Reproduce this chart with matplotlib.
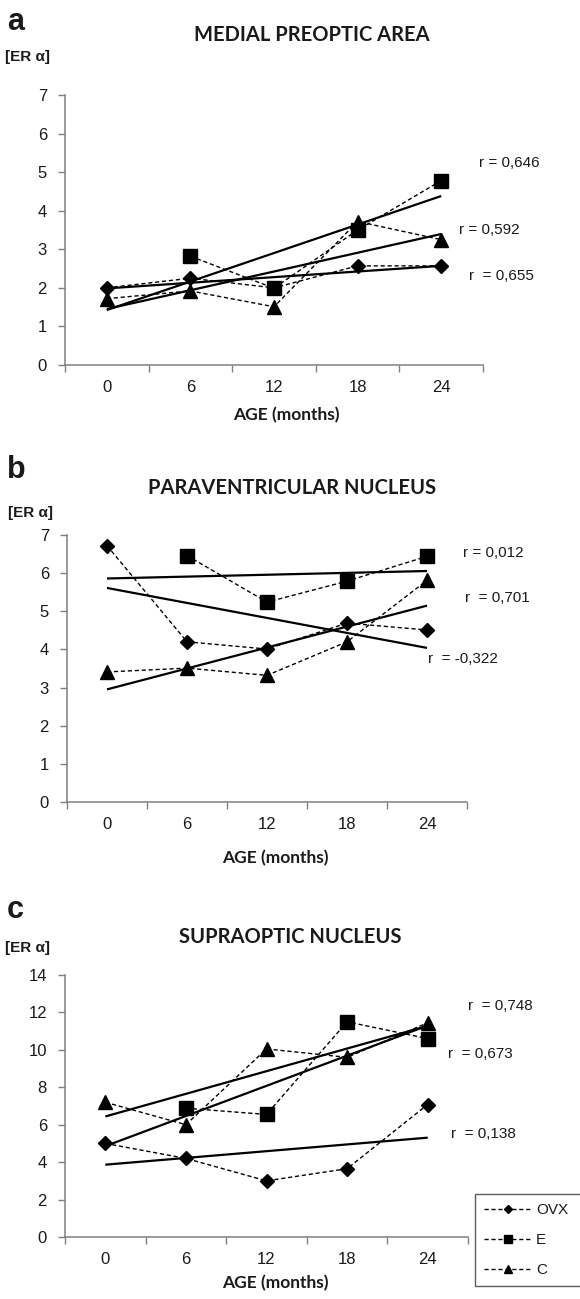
import numpy as np
import matplotlib
matplotlib.use('Agg')
import matplotlib.pyplot as plt

# ---------------- data ----------------
months = ['0', '6', '12', '18', '24']
month_vals = [0, 6, 12, 18, 24]
series_names = ['OVX', 'E', 'C']

# a: medial preoptic area
a_ovx = [2.00, 2.25, 2.00, 2.57, 2.57]
a_e = [np.nan, 2.82, 1.99, 3.50, 4.78]
a_c = [1.72, 1.92, 1.51, 3.72, 3.25]
a_r = ['r = 0,646', 'r = 0,592', 'r  = 0,655']

# b: paraventricular nucleus
b_ovx = [6.72, 4.20, 4.01, 4.69, 4.51]
b_e = [np.nan, 6.46, 5.24, 5.79, 6.44]
b_c = [3.41, 3.51, 3.32, 4.20, 5.81]
b_r = ['r = 0,012', 'r  = 0,701', 'r  = -0,322']

# c: supraoptic nucleus
c_ovx = [5.00, 4.20, 3.00, 3.65, 7.08]
c_e = [np.nan, 6.88, 6.55, 11.50, 10.60]
c_c = [7.20, 6.00, 10.05, 9.60, 11.45]
c_r = ['r  = 0,748', 'r  = 0,673', 'r  = 0,138']

titles = ['MEDIAL PREOPTIC AREA', 'PARAVENTRICULAR NUCLEUS', 'SUPRAOPTIC NUCLEUS']
panel_letters = ['a', 'b', 'c']
y_label = '[ER \u03b1]'
x_label = 'AGE (months)'

# ---------------- layout ----------------
W, H = 580, 1299
fig = plt.figure(figsize=(W / 100, H / 100), dpi=100)


def fx(x):
    return x / W


def fy(y):
    return 1 - y / H


def rect(l, t, r, b):
    return [l / W, 1 - b / H, (r - l) / W, (b - t) / H]


TXT = '#1a1a1a'
SPINE = '#808080'
ARIAL = 'Liberation Sans'
CALIBRI = 'Lato'

panels = [
    dict(data=(a_ovx, a_e, a_c), r=a_r, rect=(65, 95, 483, 365), ymax=7, ystep=1,
         rpos=[(4.45, 5.23), (4.21, 3.50), (4.33, 2.30)],
         letter_xy=(7, 22), title_xy=(312, 35), ylab_xy=(5, 57), age_xy=(286, 415)),
    dict(data=(b_ovx, b_e, b_c), r=b_r, rect=(67, 535, 467, 802), ymax=7, ystep=1,
         rpos=[(4.45, 6.52), (4.48, 5.36), (4.01, 3.75)],
         letter_xy=(7, 470), title_xy=(292, 488), ylab_xy=(8, 513), age_xy=(275, 858)),
    dict(data=(c_ovx, c_e, c_c), r=c_r, rect=(65, 975, 468, 1237), ymax=14, ystep=2,
         rpos=[(4.50, 12.36), (4.25, 9.77), (4.29, 5.48)],
         letter_xy=(7, 910), title_xy=(290, 937), ylab_xy=(5, 948), age_xy=(275, 1283)),
]

markers = ['D', 's', '^']
msizes = [7.0, 10.0, 10.0]
xi = np.arange(len(months))
mv = np.array(month_vals, dtype=float)

legend_handles = None
for p_i, p in enumerate(panels):
    ax = fig.add_axes(rect(*p['rect']))
    handles = []
    for s_i, vals in enumerate(p['data']):
        v = np.array(vals, dtype=float)
        ln, = ax.plot(xi, v, color='black', lw=1.0, ls=(0, (3, 2)),
                      marker=markers[s_i], ms=msizes[s_i], mfc='black', mec='black',
                      label=series_names[s_i], zorder=3, clip_on=False)
        handles.append(ln)
        ok = ~np.isnan(v)
        k, b0 = np.polyfit(mv[ok], v[ok], 1)
        ax.plot([xi[0], xi[-1]], [b0 + k * mv[0], b0 + k * mv[-1]],
                color='black', lw=1.6, solid_capstyle='butt', zorder=4)
    legend_handles = handles
    # r labels
    for txt, (x, y) in zip(p['r'], p['rpos']):
        ax.text(x, y, txt, ha='left', va='center', fontsize=11, family=ARIAL,
                color=TXT, clip_on=False)

    ax.set_xlim(-0.5, len(months) - 0.5)
    ax.set_ylim(0, p['ymax'])
    ax.set_yticks(np.arange(0, p['ymax'] + 0.1, p['ystep']))
    ax.set_xticks(np.arange(-0.5, len(months), 1.0))
    ax.set_xticklabels([])
    ax.set_xticks(xi, minor=True)
    ax.set_xticklabels(months, minor=True)
    ax.tick_params(axis='x', which='major', length=5, width=1, color=SPINE, direction='out')
    ax.tick_params(axis='x', which='minor', length=0, pad=11, labelsize=12, labelcolor=TXT)
    ax.tick_params(axis='y', length=5, width=1, color=SPINE, direction='out', pad=8,
                   labelsize=12, labelcolor=TXT)
    for lab in ax.get_xticklabels(minor=True) + ax.get_yticklabels():
        lab.set_family(ARIAL)
    for sp in ['top', 'right']:
        ax.spines[sp].set_visible(False)
    for sp in ['left', 'bottom']:
        ax.spines[sp].set_color(SPINE)
        ax.spines[sp].set_linewidth(1.1)

    lx, ly = p['letter_xy']
    fig.text(fx(lx), fy(ly), panel_letters[p_i], fontsize=22, fontweight='bold',
             family=ARIAL, color=TXT, ha='left', va='center')
    tx, ty = p['title_xy']
    fig.text(fx(tx), fy(ty), titles[p_i], fontsize=14.5, fontweight='bold',
             family=CALIBRI, color=TXT, ha='center', va='center')
    yx, yy = p['ylab_xy']
    fig.text(fx(yx), fy(yy), y_label, fontsize=11, fontweight='bold',
             family=ARIAL, color=TXT, ha='left', va='center')
    axx, axy = p['age_xy']
    fig.text(fx(axx), fy(axy), x_label, fontsize=12.5, fontweight='bold',
             family=CALIBRI, color=TXT, ha='center', va='center')

leg = fig.legend(handles=legend_handles, labels=series_names,
                 loc='upper left', bbox_to_anchor=(fx(475), fy(1194), (640 - 475) / W, 0),
                 mode='expand', borderaxespad=0, frameon=True, fancybox=False,
                 edgecolor='#333333', prop={'family': ARIAL, 'size': 11}, labelspacing=1.05,
                 handlelength=3.1, handletextpad=0.3, borderpad=0.6, markerscale=0.6)
leg.get_frame().set_linewidth(1.0)
for t in leg.get_texts():
    t.set_color(TXT)

fig.savefig('out.png', dpi=100)
